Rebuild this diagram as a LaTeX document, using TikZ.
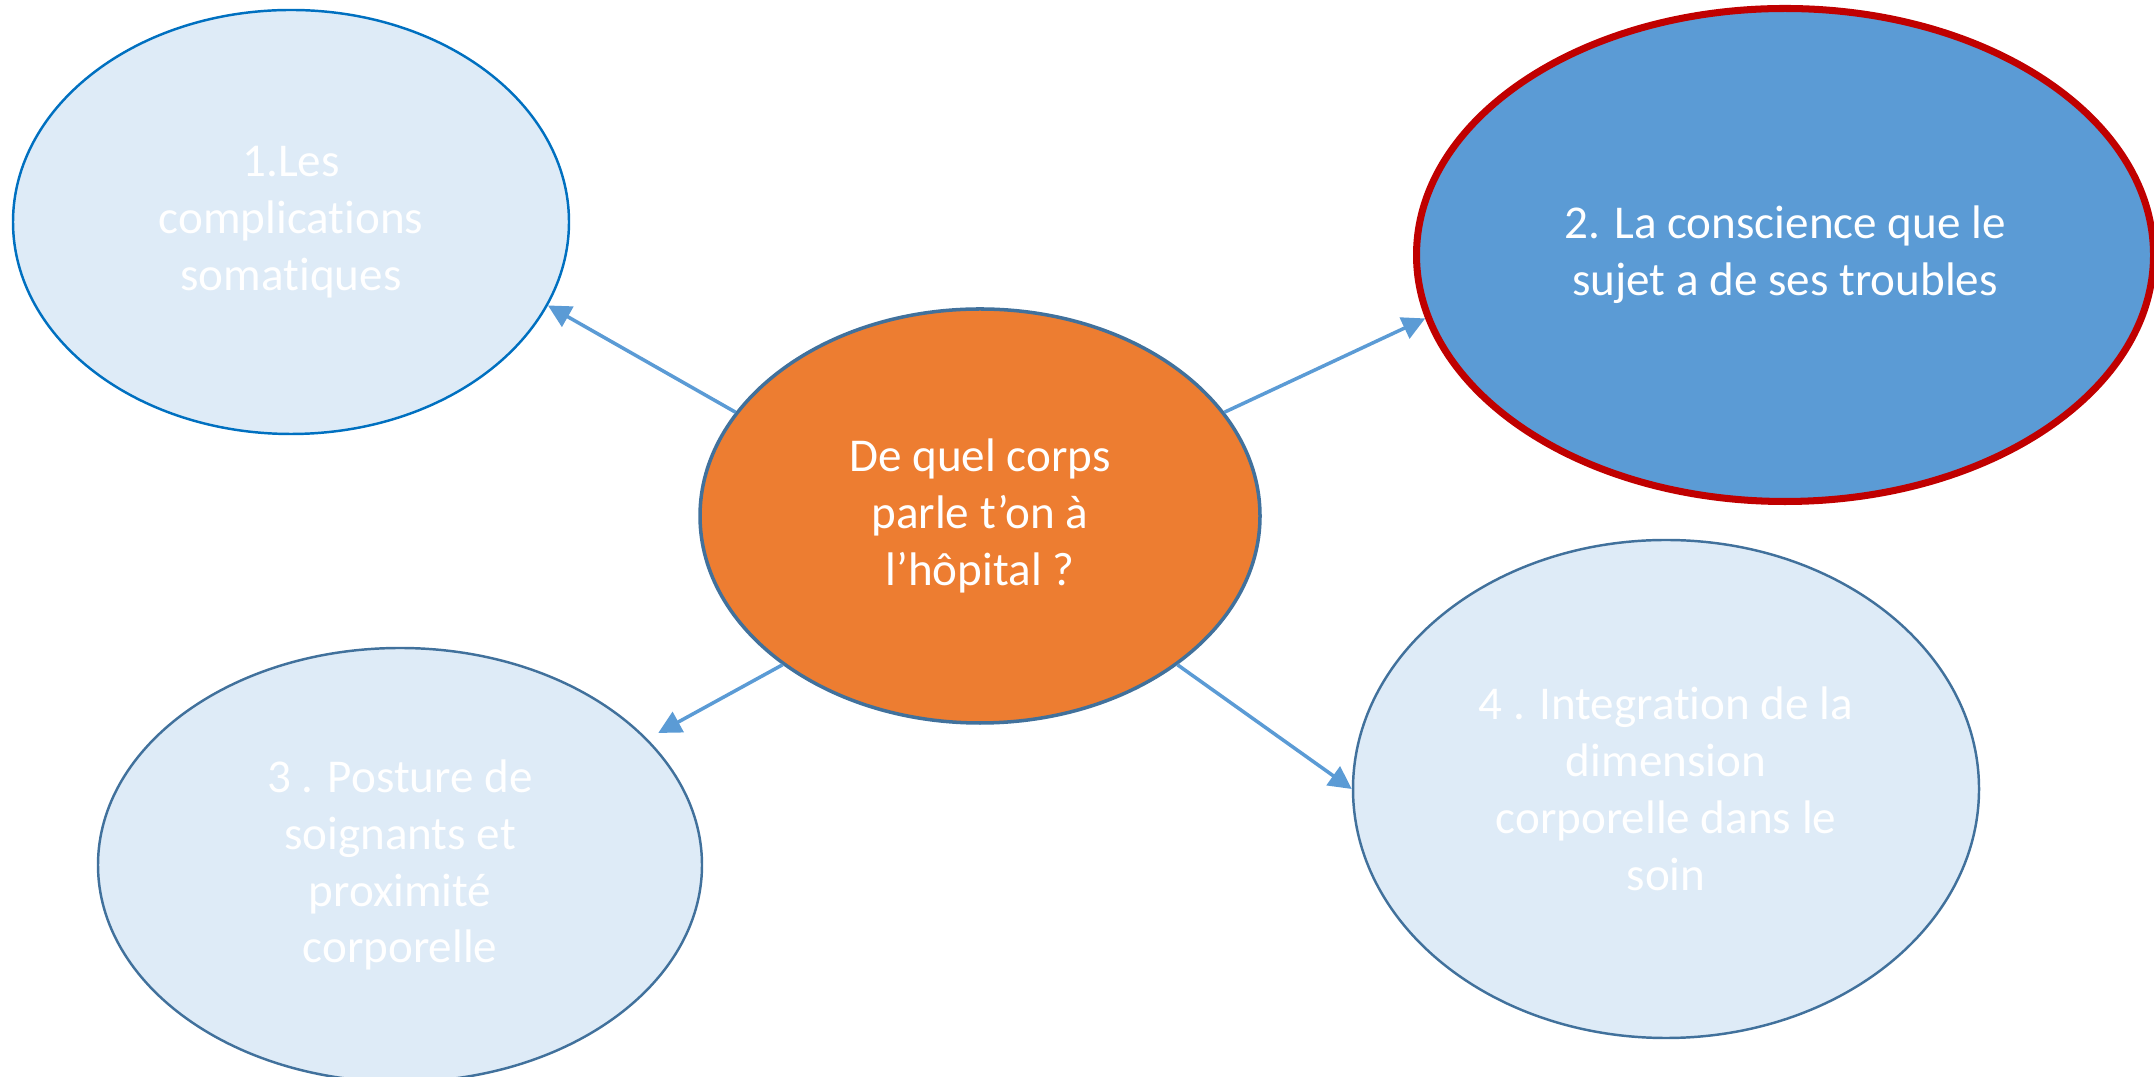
\documentclass[tikz,border=0pt]{standalone}
\usepackage{fontspec}
\setmainfont{Carlito}[Ligatures=NoCommon]
\usetikzlibrary{shapes.geometric,arrows.meta}
\definecolor{orangec}{HTML}{ED7D31}
\definecolor{bleuc}{HTML}{5B9BD5}
\definecolor{fondc}{HTML}{DEEBF7}
\definecolor{bordc}{HTML}{41719C}
\definecolor{bordv}{HTML}{0070C0}
\definecolor{rougec}{HTML}{C00000}
\tikzset{
  bulle/.style={ellipse,draw=bordc,fill=fondc,line width=0.7pt,inner sep=0pt,
    align=center,text=white,font=\fontsize{13.4}{16.2}\selectfont},
  fleche/.style={-{Triangle[length=6.5pt,width=6.5pt]},draw=bleuc,line width=1pt}
}
\begin{document}
\begin{tikzpicture}
\useasboundingbox (0,0) rectangle (21.54,10.77);
\node[bulle,fill=orangec,line width=1pt,minimum width=5.6cm,minimum height=4.14cm](ctr) at(9.80,5.61){De quel corps\\parle t’on à\\l’hôpital ?};
\node[bulle,draw=bordv,minimum width=5.56cm,minimum height=4.24cm](e1) at(2.91,8.55){1.Les\\complications\\somatiques};
\node[bulle,draw=rougec,fill=bleuc,line width=2pt,minimum width=7.37cm,minimum height=4.93cm](e2) at(17.85,8.22){2. La conscience que le\\sujet a de ses troubles};
\node[bulle,minimum width=6.04cm,minimum height=4.34cm](e3) at(4.00,2.12){3 . Posture de\\soignants et\\proximité\\corporelle};
\node[bulle,minimum width=6.26cm,minimum height=4.98cm](e4) at(16.66,2.88){4 . Integration de la\\dimension\\corporelle dans le\\soin};
\foreach \s/\t/\g in {ctr.157/e1.-18/0pt,ctr.23/e2.190/0pt,ctr.217/e3.27/3.5pt,ctr.-37/e4.180/0pt}
\draw[fleche,shorten >=\g](\s)--(\t);
\end{tikzpicture}
\end{document}
